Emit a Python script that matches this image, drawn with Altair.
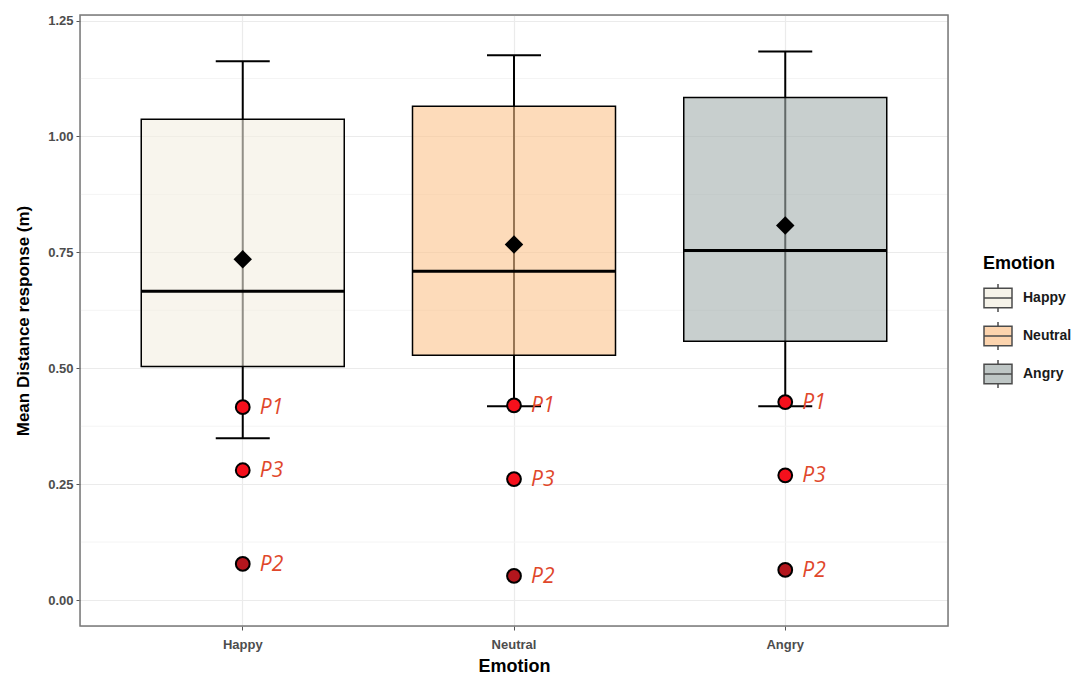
import altair as alt
import pandas as pd

categories = ["Happy", "Neutral", "Angry"]
fill_colors = ["#f3efe1", "#fbc38c", "#a3afad"]
q1 = [0.504, 0.528, 0.558]
median = [0.666, 0.709, 0.754]
q3 = [1.037, 1.065, 1.084]
whisker_lo = [0.349, 0.418, 0.418]
whisker_hi = [1.162, 1.175, 1.183]
means = [0.735, 0.767, 0.808]

point_emotion = ["Happy", "Happy", "Happy", "Neutral", "Neutral", "Neutral", "Angry", "Angry", "Angry"]
point_label = ["P1", "P3", "P2", "P1", "P3", "P2", "P1", "P3", "P2"]
point_value = [0.416, 0.280, 0.078, 0.420, 0.261, 0.052, 0.427, 0.269, 0.065]

y_ticks = [0.0, 0.25, 0.5, 0.75, 1.0, 1.25]
minor_ticks = [0.125, 0.375, 0.625, 0.875, 1.125]

box_df = pd.DataFrame({
    "emotion": categories, "q1": q1, "median": median, "q3": q3,
    "lo": whisker_lo, "hi": whisker_hi, "mean": means,
})
pts_df = pd.DataFrame({"emotion": point_emotion, "label": point_label, "value": point_value})
minor_df = pd.DataFrame({"v": minor_ticks})

FONT = "Liberation Sans"
ydom = [-0.056, 1.262]
W, H = 868, 611

xenc = alt.X(
    "emotion:N", sort=categories,
    scale=alt.Scale(domain=categories, paddingInner=0, paddingOuter=0.1),
    axis=alt.Axis(title="Emotion", labelAngle=0, grid=True, bandPosition=0.5,
                  gridColor="#ebebeb", gridWidth=1.2, domain=False,
                  tickColor="#555555", tickSize=4, labelPadding=8,
                  labelFontSize=13, labelFontWeight="bold", labelColor="#4d4d4d",
                  titleFontSize=18, titleFontWeight="bold", titleColor="#000000",
                  titlePadding=6, labelFont=FONT, titleFont=FONT),
)

yscale = alt.Scale(domain=ydom, nice=False, zero=False)
yaxis = alt.Axis(title="Mean Distance response (m)", values=y_ticks, format=".2f",
                 grid=True, gridColor="#ebebeb", gridWidth=1.2, domain=False,
                 tickColor="#555555", tickSize=4, labelPadding=3,
                 labelFontSize=13, labelFontWeight="bold", labelColor="#4d4d4d",
                 titleFontSize=17, titleFontWeight="bold", titleColor="#000000",
                 titlePadding=15, labelFont=FONT, titleFont=FONT)

minor = alt.Chart(minor_df).mark_rule(color="#f4f4f4", strokeWidth=1).encode(
    y=alt.Y("v:Q", scale=yscale, axis=yaxis)
)

whisk = alt.Chart(box_df).mark_rule(color="black", strokeWidth=2).encode(
    x=xenc, y=alt.Y("lo:Q", scale=yscale, axis=yaxis), y2="hi:Q"
)
cap_lo = alt.Chart(box_df).mark_tick(color="black", size=54, thickness=2, opacity=1).encode(
    x=xenc, y=alt.Y("lo:Q", scale=yscale)
)
cap_hi = alt.Chart(box_df).mark_tick(color="black", size=54, thickness=2, opacity=1).encode(
    x=xenc, y=alt.Y("hi:Q", scale=yscale)
)

legend_path = "M-1,-0.7L1,-0.7L1,0.7L-1,0.7Z M-1,0L1,0 M0,-0.7L0,-1 M0,0.7L0,1"
box = alt.Chart(box_df).mark_bar(size=203, stroke="black", strokeWidth=1.5,
                                 fillOpacity=0.6, strokeOpacity=1).encode(
    x=xenc, y=alt.Y("q1:Q", scale=yscale), y2="q3:Q",
    fill=alt.Fill("emotion:N", sort=categories,
                  scale=alt.Scale(domain=categories, range=fill_colors),
                  legend=alt.Legend(title="Emotion", symbolType=legend_path,
                                    symbolSize=784, symbolStrokeColor="black",
                                    symbolStrokeWidth=1.5, symbolOpacity=0.7,
                                    titleFontSize=18, titleFont=FONT, titleFontWeight="bold",
                                    titleColor="#000000", titlePadding=10,
                                    labelFontSize=14, labelFont=FONT, labelFontWeight="bold",
                                    labelColor="#1a1a1a", labelOffset=10,
                                    rowPadding=4, orient="none", legendX=903, legendY=240,
                                    padding=0))
)
med = alt.Chart(box_df).mark_tick(color="black", size=203, thickness=3, opacity=1).encode(
    x=xenc, y=alt.Y("median:Q", scale=yscale)
)
mean_pt = alt.Chart(box_df).mark_point(shape="diamond", filled=True, color="black",
                                       size=340, opacity=1).encode(
    x=xenc, y=alt.Y("mean:Q", scale=yscale)
)
pts = alt.Chart(pts_df).mark_point(filled=True, shape="circle", size=190, stroke="black",
                                   strokeWidth=2, opacity=1).encode(
    x=xenc, y=alt.Y("value:Q", scale=yscale),
    fill=alt.condition(alt.datum.label == "P2", alt.value("#b3161d"), alt.value("#f5101c")),
)
labels = alt.Chart(pts_df).mark_text(align="left", baseline="middle", dx=17, dy=1,
                                     fontSize=21, fontStyle="italic", font="Open Sans",
                                     color="#e0472b").encode(
    x=xenc, y=alt.Y("value:Q", scale=yscale), text="label:N"
)
frame = alt.Chart(pd.DataFrame({"d": [0]})).mark_rect(
    fill=None, stroke="#7a7a7a", strokeWidth=1.5
).encode(x=alt.value(0), x2=alt.value(W), y=alt.value(0), y2=alt.value(H))

chart = alt.layer(minor, whisk, cap_lo, cap_hi, box, med, mean_pt, pts, labels, frame).properties(
    width=W, height=H,
    padding={"left": 6, "top": 6, "right": 5, "bottom": 5},
).configure_view(stroke=None).configure(background="white")

chart.save("out.html", embed_options={"renderer": "svg", "actions": False})
